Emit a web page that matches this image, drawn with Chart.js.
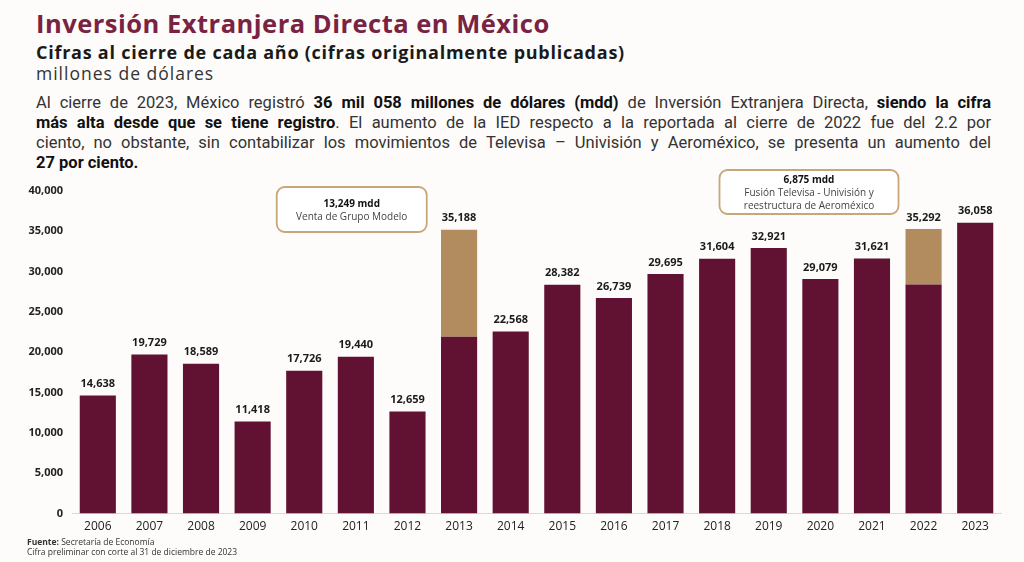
<!DOCTYPE html>
<html lang="es">
<head>
<meta charset="utf-8">
<script src="https://cdn.jsdelivr.net/npm/chart.js@4.4.1/dist/chart.umd.min.js"></script>
<style>
  html, body { margin: 0; padding: 0; }
  body {
    width: 1024px; height: 562px; overflow: hidden; position: relative;
    background: #fdfcfa;
    font-family: "Open Sans", Lato, sans-serif;
  }
  #title {
    position: absolute; left: 36px; top: 6px;
    font: 700 25.5px "Open Sans", sans-serif; color: #7a2242; letter-spacing: 0.5px;
  }
  #subtitle {
    position: absolute; left: 36px; top: 40px;
    font: 700 18px "Open Sans", sans-serif; color: #1a1a1a; letter-spacing: 0.75px;
  }
  #units {
    position: absolute; left: 36px; top: 61px;
    font: 400 17.5px "Open Sans", sans-serif; color: #333; letter-spacing: 1px;
  }
  #text {
    position: absolute; left: 36px; top: 93px; width: 955px;
    font: 400 16.5px Roboto, sans-serif;
    line-height: 20px; color: #333;
  }
  #text span { display: block; text-align: justify; text-align-last: justify; white-space: nowrap; }
  #text span.last { text-align-last: left; }
  #text b { color: #111; }
  #wrap { position: absolute; left: 0; top: 160px; width: 1012px; height: 380px; }
  #foot {
    position: absolute; left: 27px; top: 537px;
    font: 400 8.5px "Open Sans", sans-serif; color: #333; line-height: 10px;
  }
</style>
</head>
<body>
<div id="title">Inversión Extranjera Directa en México</div>
<div id="subtitle">Cifras al cierre de cada año (cifras originalmente publicadas)</div>
<div id="units">millones de dólares</div>
<div id="text">
  <span>Al cierre de 2023, México registró <b>36 mil 058 millones de dólares (mdd)</b> de Inversión Extranjera Directa, <b>siendo la cifra</b></span>
  <span><b>más alta desde que se tiene registro</b>. El aumento de la IED respecto a la reportada al cierre de 2022 fue del 2.2 por</span>
  <span>ciento, no obstante, sin contabilizar los movimientos de Televisa – Univisión y Aeroméxico, se presenta un aumento del</span>
  <span class="last"><b>27 por ciento.</b></span>
</div>
<div id="wrap"><canvas id="chart"></canvas></div>
<div id="foot"><b>Fuente:</b> Secretaría de Economía<br>Cifra preliminar con corte al 31 de diciembre de 2023</div>

<script>
'use strict';

// data
const years = ['2006', '2007', '2008', '2009', '2010', '2011', '2012', '2013', '2014',
               '2015', '2016', '2017', '2018', '2019', '2020', '2021', '2022', '2023'];
const totals = [14638, 19729, 18589, 11418, 17726, 19440, 12659, 35188, 22568,
                28382, 26739, 29695, 31604, 32921, 29079, 31621, 35292, 36058];
// one-off operations shown in gold
const extraordinary = [0, 0, 0, 0, 0, 0, 0, 13249, 0, 0, 0, 0, 0, 0, 0, 0, 6875, 0];
const baseValues = totals.map((t, i) => t - extraordinary[i]);
const yTicks = [0, 5000, 10000, 15000, 20000, 25000, 30000, 35000, 40000];

// note boxes, placed relative to a category
const notes = [
    { at: 5, dx: -0.08, top: -4, w: 150, h: 45, first: 17, lines: ['13,249 mdd', 'Venta de Grupo Modelo'] },
    { at: 13, dx: 0.78, top: -21, w: 179, h: 44, first: 10, lines: ['6,875 mdd', 'Fusión Televisa - Univisión y', 'reestructura de Aeroméxico'] },
];

const MAROON = '#611232';
const GOLD = '#b28c5e';

const fmt = n => n.toLocaleString('en-US');

// totals above each stack
const totalLabels = {
    id: 'totalLabels',
    afterDatasetsDraw(chart) {
        const { ctx, scales: { x, y } } = chart;
        ctx.save();
        ctx.font = '700 11px "Open Sans", sans-serif';
        ctx.fillStyle = '#1a1a1a';
        ctx.textAlign = 'center';
        ctx.textBaseline = 'bottom';
        totals.forEach((t, i) => {
            ctx.fillText(fmt(t), x.getPixelForValue(i), y.getPixelForValue(t) - 6);
        });
        ctx.restore();
    }
};

function roundRect(ctx, x, y, w, h, r) {
    ctx.beginPath();
    ctx.moveTo(x + r, y);
    ctx.arcTo(x + w, y, x + w, y + h, r);
    ctx.arcTo(x + w, y + h, x, y + h, r);
    ctx.arcTo(x, y + h, x, y, r);
    ctx.arcTo(x, y, x + w, y, r);
    ctx.closePath();
}

const noteBoxes = {
    id: 'noteBoxes',
    afterDraw(chart) {
        const { ctx, scales: { x } } = chart;
        const step = x.getPixelForValue(1) - x.getPixelForValue(0);
        ctx.save();
        notes.forEach(n => {
            const cx = x.getPixelForValue(n.at) + n.dx * step;
            const bx = cx - n.w / 2, by = chart.chartArea.top + n.top;
            roundRect(ctx, bx, by, n.w, n.h, 8);
            ctx.fillStyle = '#ffffff';
            ctx.fill();
            ctx.lineWidth = 1.8;
            ctx.strokeStyle = '#c9a679';
            ctx.stroke();
            ctx.textAlign = 'center';
            ctx.textBaseline = 'middle';
            n.lines.forEach((l, k) => {
                ctx.font = (k === 0 ? '700 ' : '400 ') + '10px "Open Sans", sans-serif';
                ctx.fillStyle = k === 0 ? '#111' : '#444';
                ctx.fillText(l, cx, by + n.first + k * 13);
            });
        });
        ctx.restore();
    }
};

new Chart(document.getElementById('chart'), {
    type: 'bar',
    data: {
        labels: years,
        datasets: [
            { label: 'IED', data: baseValues, backgroundColor: MAROON },
            { label: 'Operaciones extraordinarias', data: extraordinary, backgroundColor: GOLD },
        ]
    },
    options: {
        responsive: true,
        maintainAspectRatio: false,
        animation: false,
        layout: { padding: { top: 31, right: 11, left: 0, bottom: 0 } },
        datasets: { bar: { categoryPercentage: 1, barPercentage: 0.7, borderWidth: 0 } },
        plugins: { legend: { display: false }, tooltip: { enabled: false } },
        scales: {
            x: {
                stacked: true,
                grid: { display: false, drawTicks: false },
                border: { display: true, color: '#d9d9d9', width: 1 },
                ticks: { color: '#222', padding: 6, font: { family: '"Open Sans", sans-serif', size: 12 } }
            },
            y: {
                stacked: true,
                min: 0, max: 40000,
                afterBuildTicks: axis => { axis.ticks = yTicks.map(v => ({ value: v })); },
                afterFit: axis => { axis.width = 72; },
                grid: { display: false, drawTicks: false },
                border: { display: false },
                ticks: {
                    color: '#222', padding: 9,
                    font: { family: '"Open Sans", sans-serif', size: 11, weight: '700' },
                    callback: v => fmt(v)
                }
            }
        }
    },
    plugins: [totalLabels, noteBoxes]
});
</script>
</body>
</html>
